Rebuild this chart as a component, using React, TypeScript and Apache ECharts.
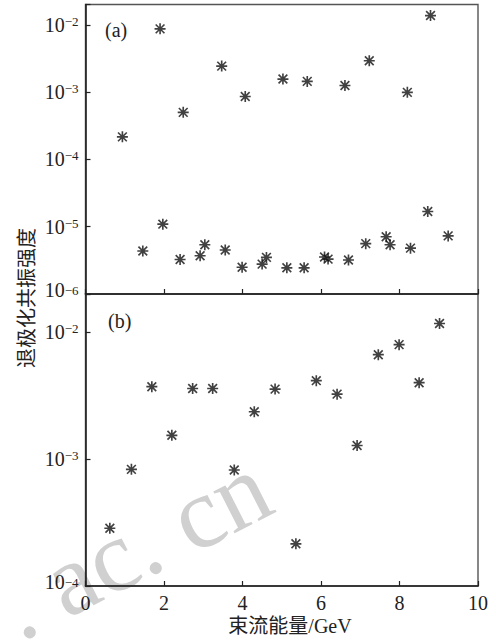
import React, { useEffect, useRef } from 'react';
import * as echarts from 'echarts';

// Panel (a): beam energy (GeV) and depolarizing resonance strength
const energyA = [0.94, 1.46, 1.90, 1.97, 2.41, 2.49, 2.92, 3.04, 3.47, 3.56, 3.99, 4.07, 4.50, 4.61, 5.03, 5.13, 5.57, 5.65, 6.09, 6.18, 6.61, 6.70, 7.14, 7.23, 7.66, 7.76, 8.20, 8.28, 8.72, 8.79, 9.24];
const strengthA = [2.16e-4, 4.36e-6, 8.7e-3, 1.09e-5, 3.26e-6, 5.0e-4, 3.7e-6, 5.4e-6, 2.43e-3, 4.5e-6, 2.5e-6, 8.6e-4, 2.78e-6, 3.5e-6, 1.56e-3, 2.45e-6, 2.45e-6, 1.44e-3, 3.55e-6, 3.3e-6, 1.25e-3, 3.2e-6, 5.6e-6, 2.92e-3, 7.1e-6, 5.4e-6, 9.9e-4, 4.8e-6, 1.68e-5, 1.37e-2, 7.3e-6];

// Panel (b)
const energyB = [0.62, 1.17, 1.69, 2.20, 2.73, 3.24, 3.79, 4.30, 4.83, 5.36, 5.88, 6.41, 6.92, 7.46, 7.99, 8.50, 9.02];
const strengthB = [2.85e-4, 8.3e-4, 3.72e-3, 1.54e-3, 3.6e-3, 3.6e-3, 8.2e-4, 2.36e-3, 3.56e-3, 2.15e-4, 4.15e-3, 3.25e-3, 1.28e-3, 6.65e-3, 7.98e-3, 4.0e-3, 1.17e-2];

const xMin = 0;
const xMax = 10;
const xInterval = 2;
const yMinA = 1e-6;
const yMinB = 1e-4;
const yMax = 0.02;

const panelLabels = ['(a)', '(b)'];
const yTitle = '退极化共振强度';
const xTitle = '束流能量/GeV';
const watermark = '. ac. cn';

const SERIF = '"Liberation Serif", "Times New Roman", serif';
const CJK = '"Liberation Serif", "Noto Sans CJK SC", sans-serif';
const STAR =
  'path://M8.5 0L11.5 0L11.5 20L8.5 20Z M0 8.5L20 8.5L20 11.5L0 11.5Z M3.1 1L19 16.9L16.9 19L1 3.1Z M16.9 1L19 3.1L3.1 19L1 16.9Z M6 6L14 6L14 14L6 14Z';

function logFormatter(minVal: number) {
  return (v: number) => {
    const l = Math.log10(v);
    const e = Math.round(l);
    if (Math.abs(l - e) > 1e-6) return '';
    const sup = (e < 0 ? '\u2212' : '') + Math.abs(e);
    const isMin = Math.abs(l - Math.log10(minVal)) < 1e-6;
    return isMin ? `{bm|10}{s|${sup}}` : `{b|10}{s|${sup}}`;
  };
}

const labelRich = {
  b: { fontSize: 20, fontFamily: SERIF, color: '#222', lineHeight: 20 },
  bm: { fontSize: 20, fontFamily: SERIF, color: '#222', lineHeight: 20, padding: [0, 0, 9, 0] },
  s: { fontSize: 13, fontFamily: SERIF, color: '#222', lineHeight: 13, verticalAlign: 'top' },
};

export default function App() {
  const ref = useRef<HTMLDivElement>(null);
  useEffect(() => {
    if (!ref.current) return;
    const chart = echarts.init(ref.current, null, { renderer: 'svg' });
    const left = 85.5;
    const width = 392.5;
    const axisLine = { show: true, lineStyle: { color: '#222', width: 1.6 } };
    const tick = { show: true, inside: true, length: 5, lineStyle: { color: '#222', width: 1.2 } };
    chart.setOption({
      animation: false,
      backgroundColor: '#fff',
      grid: [
        { left, width, top: 4.5, height: 289.5, show: true, borderColor: '#555', borderWidth: 1.4, backgroundColor: 'transparent' },
        { left, width, top: 294, height: 292, show: true, borderColor: '#555', borderWidth: 1.4, backgroundColor: 'transparent' },
      ],
      xAxis: [
        {
          type: 'value', gridIndex: 0, min: xMin, max: xMax, interval: xInterval,
          axisLine, axisTick: tick, axisLabel: { show: false }, splitLine: { show: false },
        },
        {
          type: 'value', gridIndex: 1, min: xMin, max: xMax, interval: xInterval,
          axisLine, axisTick: tick,
          axisLabel: { show: true, fontSize: 20, fontFamily: SERIF, color: '#222', margin: 7 },
          splitLine: { show: false },
        },
      ],
      yAxis: [
        {
          type: 'log', logBase: 10, gridIndex: 0, min: yMinA, max: yMax,
          axisLine, axisTick: tick,
          axisLabel: { show: true, margin: 7, formatter: logFormatter(yMinA), rich: labelRich },
          splitLine: { show: false }, minorTick: { show: false },
        },
        {
          type: 'log', logBase: 10, gridIndex: 1, min: yMinB, max: yMax,
          axisLine, axisTick: tick,
          axisLabel: { show: true, margin: 7, formatter: logFormatter(yMinB), rich: labelRich },
          splitLine: { show: false }, minorTick: { show: false },
        },
      ],
      series: [
        {
          type: 'scatter', xAxisIndex: 0, yAxisIndex: 0,
          data: energyA.map((x, i) => [x, strengthA[i]]),
          symbol: STAR, symbolSize: 11, itemStyle: { color: '#111' }, z: 5,
        },
        {
          type: 'scatter', xAxisIndex: 1, yAxisIndex: 1,
          data: energyB.map((x, i) => [x, strengthB[i]]),
          symbol: STAR, symbolSize: 11, itemStyle: { color: '#111' }, z: 5,
        },
      ],
      graphic: [
        {
          type: 'text', x: 28, y: 657, rotation: (27 * Math.PI) / 180, silent: true, z: -1,
          style: { text: watermark, fontSize: 102, fontFamily: SERIF, fill: '#d0d0d0', textAlign: 'left', align: 'left', textVerticalAlign: 'bottom', verticalAlign: 'bottom' },
        },
        {
          type: 'text', x: 105, y: 30, z: 10,
          style: { text: panelLabels[0], fontSize: 20, fontFamily: SERIF, fill: '#222', textAlign: 'left', align: 'left', textVerticalAlign: 'middle', verticalAlign: 'middle' },
        },
        {
          type: 'text', x: 108, y: 321, z: 10,
          style: { text: panelLabels[1], fontSize: 20, fontFamily: SERIF, fill: '#222', textAlign: 'left', align: 'left', textVerticalAlign: 'middle', verticalAlign: 'middle' },
        },
        {
          type: 'text', x: 27, y: 298, rotation: Math.PI / 2, z: 10,
          style: { text: yTitle, fontSize: 20, fontFamily: CJK, fill: '#222', textAlign: 'center', align: 'center', textVerticalAlign: 'middle', verticalAlign: 'middle' },
        },
        {
          type: 'text', x: 290, y: 626, z: 10,
          style: { text: xTitle, fontSize: 20, fontFamily: CJK, fill: '#222', textAlign: 'center', align: 'center', textVerticalAlign: 'middle', verticalAlign: 'middle' },
        },
      ],
    });
    return () => chart.dispose();
  }, []);
  return (
    <div
      ref={ref}
      style={{ position: 'fixed', left: 0, top: 0, width: 496, height: 641, background: '#fff' }}
    />
  );
}
